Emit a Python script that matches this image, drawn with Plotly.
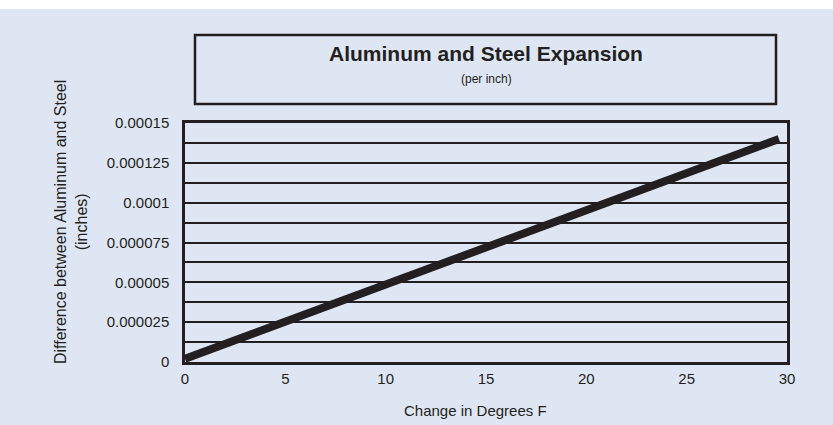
import plotly.graph_objects as go

# Data
temp_change = [0, 29.6]
difference = [0.000002, 0.000140]
y_tick_vals = [0, 0.000025, 0.00005, 0.000075, 0.0001, 0.000125, 0.00015]
y_tick_text = ["0", "0.000025", "0.00005", "0.000075", "0.0001", "0.000125", "0.00015"]
x_tick_vals = [0, 5, 10, 15, 20, 25, 30]

BG = "#dfe6f3"
FONT = "Liberation Sans, Arial, sans-serif"

W, H = 833, 425
L, R, T, B = 185, 46, 123, 63
pw, ph = W - L - R, H - T - B

def px(xp):
    return (xp - L) / pw

def py(yp):
    return (H - B - yp) / ph

fig = go.Figure()
fig.add_trace(go.Scatter(
    x=temp_change, y=difference, mode="lines",
    line=dict(color="#231f20", width=8), showlegend=False, hoverinfo="skip"))

fig.update_layout(
    width=W, height=H,
    margin=dict(l=L, r=R, t=T, b=B, pad=0),
    paper_bgcolor="white",
    plot_bgcolor=BG,
    font=dict(family=FONT, color="#231f20", size=15),
    xaxis=dict(range=[0, 30], tickvals=x_tick_vals, showgrid=False, zeroline=False,
               showline=True, mirror=True, linecolor="#231f20", linewidth=2.5,
               ticks="outside", ticklen=1, tickcolor="rgba(0,0,0,0)",
               tickfont=dict(size=15), title=None),
    yaxis=dict(range=[0, 0.00015], tickvals=y_tick_vals, ticktext=y_tick_text,
               showgrid=True, gridcolor="#231f20", gridwidth=1.5,
               minor=dict(dtick=0.0000125, showgrid=True, gridcolor="#231f20", gridwidth=1.5),
               zeroline=False, showline=True, mirror=True, linecolor="#231f20", linewidth=2.5,
               ticks="outside", ticklen=10, tickcolor="rgba(0,0,0,0)",
               tickfont=dict(size=15), title=None),
    shapes=[
        dict(type="rect", xref="paper", yref="paper", layer="below",
             x0=-0.35, x1=1.2, y0=-0.4, y1=py(9), fillcolor=BG, line=dict(width=0)),
        dict(type="rect", xref="paper", yref="paper", layer="below",
             x0=px(195), x1=px(776), y0=py(104), y1=py(35), fillcolor=BG,
             line=dict(color="#231f20", width=2.5)),
    ],
    annotations=[
        dict(text="<b>Aluminum and Steel Expansion</b>", xref="paper", yref="paper",
             x=px(486), y=py(53), showarrow=False, font=dict(size=21), yanchor="middle"),
        dict(text="(per inch)", xref="paper", yref="paper",
             x=px(486), y=py(79), showarrow=False, font=dict(size=12), yanchor="middle"),
        dict(text="Change in Degrees F", xref="paper", yref="paper",
             x=px(475), y=py(410), showarrow=False, font=dict(size=15), yanchor="middle"),
        dict(text="Difference between Aluminum and Steel<br>(inches)", xref="paper", yref="paper",
             x=px(71), y=py(222), showarrow=False, textangle=-90, font=dict(size=16),
             xanchor="center", yanchor="middle"),
    ],
)

fig.write_html("out.html", config={"displayModeBar": False},
               post_script="document.body.style.margin='0';")
